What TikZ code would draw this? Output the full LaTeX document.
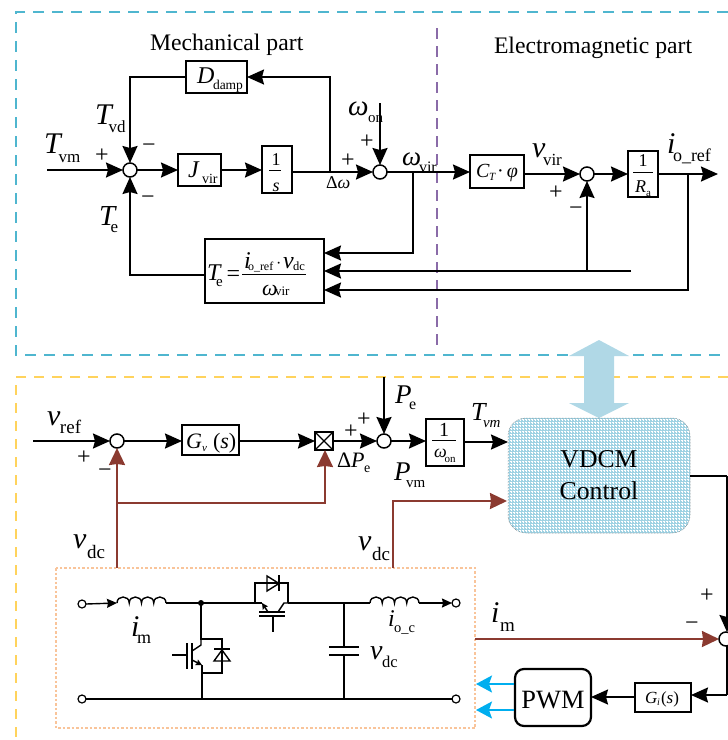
\documentclass[tikz,border=0pt]{standalone}
\usepackage{fontspec}
\setmainfont{Liberation Serif}
\usetikzlibrary{arrows.meta}
\definecolor{topdash}{HTML}{4FB6CF}
\definecolor{botdash}{HTML}{FFD35C}
\definecolor{purp}{HTML}{8A6BA8}
\definecolor{brickred}{HTML}{8B3A30}
\definecolor{orangedot}{HTML}{F9C49A}
\definecolor{lightb}{HTML}{B0D8E6}
\definecolor{vdfill}{HTML}{9FD2E3}
\definecolor{cyanarrow}{HTML}{00AEEF}
\newcount\lc
% plain text: x, y (baseline left), size, text
\newcommand\LB[4]{\global\advance\lc by 1
  \node[txt,name=t\the\lc] at (#1,#2) {\fontsize{#3}{#3}\selectfont #4};}
% letter with subscript: x,y,size,letter,dx,dy,subsize,sub
\newcommand\LS[8]{\global\advance\lc by 1
  \node[txt,name=t\the\lc] at (#1,#2) {\fontsize{#3}{#3}\selectfont\makebox[#5pt][l]{\itshape #4}\raisebox{-#6pt}{\fontsize{#7}{#7}\selectfont #8}};}
% centred sign
\newcommand\SG[3]{\global\advance\lc by 1
  \node[sgn,name=t\the\lc] at (#1,#2) {#3};}
% box: name,x1,y1,x2,y2
\newcommand\BX[5]{\node[blk,minimum width={(#4-#2)*1pt},minimum height={(#5-#3)*1pt}] (#1) at ({(#2+#4)/2},{(#3+#5)/2}) {};}
\tikzset{
  txt/.style={anchor=base west,inner sep=0pt,outer sep=0pt},
  sgn/.style={anchor=center,inner sep=0pt,outer sep=0pt,font=\fontsize{24}{24}\selectfont},
  blk/.style={draw=black,line width=1.7pt,fill=white,inner sep=0pt,outer sep=0pt},
  sumj/.style={circle,draw=black,line width=1.5pt,fill=white,inner sep=0pt,outer sep=0pt,minimum size=14pt},
  termj/.style={circle,draw=black,line width=1.2pt,fill=white,inner sep=0pt,outer sep=0pt,minimum size=8pt},
  ln/.style={line width=1.9pt,black},
  conn/.style={ln,-{Stealth[length=17pt,width=15pt,inset=2pt]}},
  redln/.style={line width=2pt,brickred},
  redconn/.style={redln,-{Stealth[length=17pt,width=16pt,inset=1pt]}},
  cyanconn/.style={line width=1.8pt,cyanarrow,-{Stealth[length=16pt,width=17pt,inset=3pt]}},
  fr/.style={line width=.8pt,black},
  cct/.style={line width=1.4pt,black},
  smallarr/.style={cct,-{Stealth[length=6pt,width=6pt,inset=.8pt]}},
  cctarr/.style={cct,-{Stealth[length=10pt,width=9pt,inset=1pt]}},
  topd/.style={line width=1.4pt,topdash,dash pattern=on 11pt off 8pt},
  botd/.style={line width=1.4pt,botdash,dash pattern=on 10pt off 8pt},
}
\begin{document}
\begin{tikzpicture}[x=1pt,y=-1pt]
\useasboundingbox (0,0) rectangle (728,740);
% enclosing dashed frames
\coordinate (tr1) at (728,12); \coordinate (tl) at (16,12); \coordinate (bl) at (16,355); \coordinate (br1) at (728,355);
\draw[topd] (tr1) -- (tl) -- (bl) -- (br1);
\coordinate (ytr) at (728,377); \coordinate (ytl) at (16,377); \coordinate (ybl) at (16,740);
\draw[botd] (ytr) -- (ytl) -- (ybl);
\coordinate (pu1) at (437,28); \coordinate (pu2) at (437,352);
\draw[line width=1.4pt,purp,dash pattern=on 11pt off 7pt] (pu1) -- (pu2);
\coordinate (ob1) at (56,568); \coordinate (ob2) at (475,728);
\draw[line width=1.5pt,orangedot,dash pattern=on 2.5pt off 2pt] (ob1) rectangle (ob2);

% big double arrow
\fill[lightb] (599,340) -- (629,356) -- (614,356) -- (614,403) -- (629,403) -- (599,418) -- (569,403) -- (584,403) -- (584,356) -- (569,356) -- cycle;

% ---------- top blocks
\node[sumj] (S1) at (130,170) {};
\node[sumj] (S2) at (380,172) {};
\node[sumj] (S3) at (587,174) {};
\BX{dd}{186}{61}{247}{93}
\BX{jv}{178}{154}{221}{186}
\BX{ints}{262}{146}{292}{193}
\BX{ct}{470}{155}{524}{188}
\BX{ra}{628}{151}{658}{197}
\BX{te}{205}{239}{324}{303}

\coordinate (tvm) at (47,170);
\draw[conn] (tvm) -- (S1.west);
\draw[conn] (S1.east) -- (jv.west);
\draw[conn] (jv.east) -- (ints.west |- jv.east);
\coordinate (ss) at (292,172);
\draw[conn] (ss) -- (S2.west);
\coordinate (dw) at (330,172);
\draw[conn] (dw) |- (dd.east);
\draw[conn] (dd.west) -| (S1.north);
\coordinate (teout) at (205,275);
\draw[conn] (teout) -| (S1.south);
\coordinate (won) at (380,103);
\draw[conn] (won) -- (S2.north);
\draw[conn] (S2.east) -- (ct.west |- S2.east);
\coordinate (ctout) at (524,174);
\draw[conn] (ctout) -- (S3.west);
\draw[conn] (S3.east) -- (ra.west |- S3.east);
\coordinate (raout) at (658,174);
\coordinate (rend) at (718,174);
\draw[conn] (raout) -- (rend);
\coordinate (w1) at (413,172);
\coordinate (in1) at (324,253);
\coordinate (in2) at (324,271);
\coordinate (in3) at (324,290);
\draw[conn] (w1) |- (in1);
\coordinate (lend) at (631,271);
\draw[conn] (lend) -- (in2);
\coordinate (vj) at (587,271);
\draw[conn] (vj) -- (S3.south);
\coordinate (w3) at (688,174);
\draw[conn] (w3) |- (in3);

% top labels
\LB{150}{50}{23.7}{Mechanical part}
\LB{494}{53}{23.7}{Electromagnetic part}
\LS{44}{153}{30}{T}{14.5}{9}{17}{vm}
\LS{95}{124}{30}{T}{13.5}{8}{17}{vd}
\LS{99}{225}{29}{T}{11.5}{7}{17}{e}
\SG{102}{156}{+}
\SG{149}{148}{−}
\SG{148}{200}{−}
\SG{348}{161}{+}
\SG{367}{142}{+}
\SG{556}{193}{+}
\SG{576}{211}{−}
\LS{197}{83}{24}{D}{16}{6}{13.5}{damp}
\LS{188}{177}{24}{J}{14}{6}{14}{vir}
\LB{271.5}{165}{18}{1}
\draw[fr] (269,170) -- (281,170);
\LB{272.5}{191}{18}{\itshape s}
\LB{326}{188}{18}{Δ\itshape ω}
\LS{348}{115}{29}{ω}{20}{7}{15}{on}
\LS{402}{165}{27}{ω}{17}{7}{16}{vir}
\LS{476}{177}{20}{C}{13}{3}{11}{\itshape T}
\LB{497}{177}{20}{·\,\itshape φ}
\LS{532}{157}{30}{v}{11}{8}{17}{vir}
\LB{638.5}{166}{18}{1}
\draw[fr] (633,172) -- (653,172);
\LS{635}{192}{18}{R}{11}{4}{11}{a}
\LS{667}{153}{30}{i}{6}{8}{18}{o\_ref}
\LS{207}{280}{24}{T}{9}{6}{15}{e}
\LB{226.5}{281}{24}{=}
\draw[fr] (242,274) -- (306,274);
\LS{244}{268}{24}{i}{4}{2}{12}{o\_ref}
\LB{276}{268}{16}{·}
\LS{283}{268}{24}{v}{10}{2}{12.5}{dc}
\LS{262}{295}{22}{ω}{13}{0}{13}{vir}

% ---------- bottom blocks
\node[sumj] (S4) at (117,441) {};
\node[sumj] (S5) at (384,441) {};
\node[sumj] (S6) at (726,639) {};
\BX{gv}{182}{425}{239}{455}
\BX{mul}{315}{432}{333}{450}
\draw[line width=1.3pt] (mul.north west) -- (mul.south east) (mul.north east) -- (mul.south west);
\BX{ow}{426}{419}{464}{466}
\node[draw=black!60,densely dotted,line width=.5pt,fill=vdfill,rounded corners=18pt,minimum width=182pt,minimum height=115pt,inner sep=0pt,outer sep=0pt,align=center,font=\fontsize{25.7}{32}\selectfont,
  path picture={
    \foreach \i in {0,3,...,190} \draw[white,line width=.5pt] ([xshift=\i pt]path picture bounding box.south west) -- ++(0,-120);
    \foreach \i in {0,3,...,120} \draw[white,line width=.5pt] ([yshift=\i pt]path picture bounding box.south west) -- ++(190,0);
  }] (vd) at (599,475.5) {VDCM\\Control};
\node[draw=black,line width=2.2pt,fill=white,rounded corners=9pt,minimum width=76pt,minimum height=57pt,inner sep=0pt,outer sep=0pt,font=\fontsize{26.4}{26.4}\selectfont,text height=21pt,text depth=0pt] (pwm) at (553,697.5) {PWM};
\BX{gi}{635}{683}{691}{712}

\coordinate (vr) at (33,441);
\draw[conn] (vr) -- (S4.west);
\draw[conn] (S4.east) -- (gv.west |- S4.east);
\draw[conn] (gv.east |- mul.west) -- (mul.west);
\draw[conn] (mul.east) -- (S5.west);
\coordinate (pe) at (384,377);
\draw[conn] (pe) -- (S5.north);
\draw[conn] (S5.east) -- (ow.west |- S5.east);
\coordinate (owo) at (464,442);
\coordinate (vdin) at (508,442);
\draw[conn] (owo) -- (vdin);
\coordinate (vdo) at (690,476);
\coordinate (co) at (727,476);
\draw[ln] (vdo) -- (co);
\draw[conn] (co) -- (S6.north -| co);
\coordinate (s6b) at (727,646);
\coordinate (s6c) at (727,695);
\coordinate (gie) at (691,695);
\draw[ln] (s6b) -- (s6c);
\draw[conn] (s6c) -- (gie);
\coordinate (giw) at (635,697);
\draw[conn] (giw) -- (pwm.east |- giw);
\coordinate (pa1) at (514,684); \coordinate (pa2) at (514,710);
\coordinate (pt1) at (476,684); \coordinate (pt2) at (476,710);
\draw[cyanconn] (pa1) -- (pt1);
\draw[cyanconn] (pa2) -- (pt2);
% red feedback lines
\coordinate (r0) at (117,568);
\coordinate (r1) at (117,503);
\coordinate (r2) at (325,450);
\draw[redconn] (r0) -- (S4.south);
\draw[redconn] (r1) -| (r2);
\coordinate (r3) at (393,568);
\coordinate (r4) at (507,501);
\draw[redconn] (r3) |- (r4);
\coordinate (r5) at (475,639);
\draw[redconn] (r5) -- (S6.west);

% bottom labels
\LS{47}{425}{30}{v}{13}{8}{19}{ref}
\SG{84}{458}{+}
\SG{105}{473}{−}
\LS{186}{448}{22}{G}{16}{3}{11}{\itshape v}
\LB{213}{448}{22}{(\itshape s\upshape )}
\SG{351}{432}{+}
\SG{364}{420}{+}
\LS{337}{467}{22}{\upshape Δ\itshape P}{27}{5}{14}{e}
\LS{395}{403}{27}{P}{14}{6}{16}{e}
\LS{394}{480}{27}{P}{12}{7}{15}{vm}
\LS{471}{420}{26}{T}{12}{7}{15}{\itshape vm}
\LB{439}{436}{20}{1}
\draw[fr] (432,440) -- (456,440);
\LS{434}{457}{18}{ω}{10.5}{5}{11}{on}
\LS{73}{548}{30}{v}{14}{10}{19}{dc}
\LS{358}{550}{30}{v}{14}{10}{19}{dc}
\LS{131}{636}{30}{i}{6}{7}{18}{m}
\LS{388}{626}{24}{i}{6}{6}{14.5}{o\_c}
\LS{370}{659}{28}{v}{12}{8}{16.5}{dc}
\LS{491}{622}{30}{i}{9}{9}{19}{m}
\SG{707}{596}{+}
\SG{692}{626}{−}
\LS{645}{703}{17}{G}{12}{2.5}{10}{\itshape i}
\LB{661}{703}{17}{(\itshape s\upshape )}

% ---------- converter circuit
\node[termj] (ta) at (82,604) {};
\node[termj] (tb) at (82,699) {};
\node[termj] (tc) at (456,603) {};
\node[termj] (td) at (456,699) {};
\coordinate (l1a) at (117,603);
\draw[cctarr] (ta.east) -- (l1a);
\draw[cct] (l1a) .. controls +(0,-8) and +(0,-8) .. ++(12.25,0) .. controls +(0,-8) and +(0,-8) .. ++(12.25,0) .. controls +(0,-8) and +(0,-8) .. ++(12.25,0) .. controls +(0,-8) and +(0,-8) .. ++(12.25,0) coordinate (l1b);
\coordinate (nn) at (201,603);
\coordinate (sw1a) at (255,603);
\coordinate (sw1b) at (288,603);
\coordinate (cap) at (344,603);
\coordinate (l2a) at (370,603);
\draw[cct] (l1b) -- (nn) -- (sw1a);
\fill (nn) circle (3pt);
\draw[cct] (sw1b) -- (cap) -- (l2a);
\draw[cct] (l2a) .. controls +(0,-8) and +(0,-8) .. ++(12.25,0) .. controls +(0,-8) and +(0,-8) .. ++(12.25,0) .. controls +(0,-8) and +(0,-8) .. ++(12.25,0) .. controls +(0,-8) and +(0,-8) .. ++(12.25,0) coordinate (l2b);
\draw[cctarr] (l2b) -- (tc.west);
\draw[cct] (tb.east) -- (td.west);
% upper device
\draw[cct] (sw1a) -- (255,583) -- (288,583) -- (sw1b);
\draw[cct] (267,576) -- (267,591) -- (279,583.5) -- cycle;
\draw[cct] (279,575) -- (279,591);
\draw[cct] (259,612) -- (285,612) (259,616) -- (285,616);
\draw[cct] (273,616) -- (273,632);
\draw[smallarr] (268,612) -- (262,603);
\draw[cct] (262,603) -- (sw1a);
\draw[cct] (278,612) -- (284,603) -- (sw1b);
% lower device
\coordinate (lw) at (202,699);
\draw[cct] (nn) -- (201,639) -- (222,639) -- (222,673) -- (202,673);
\draw[cct] (201,639) -- (201,645) -- (192,651);
\draw[smallarr] (192,660) -- (202,665);
\draw[cct] (202,665) -- (lw);
\draw[cct] (172,655) -- (187,655);
\draw[cct] (187,643) -- (187,669);
\draw[cct] (192,643) -- (192,669);
\draw[cct] (222,650) -- (214,661) -- (230,661) -- cycle;
\draw[cct] (214,649) -- (230,649);
% capacitor
\coordinate (capb) at (344,699);
\draw[cct] (cap) -- (344,647);
\draw[cct] (329,647) -- (359,647);
\draw[cct] (329,655) -- (359,655);
\draw[cct] (344,655) -- (capb);
\end{tikzpicture}
\end{document}
